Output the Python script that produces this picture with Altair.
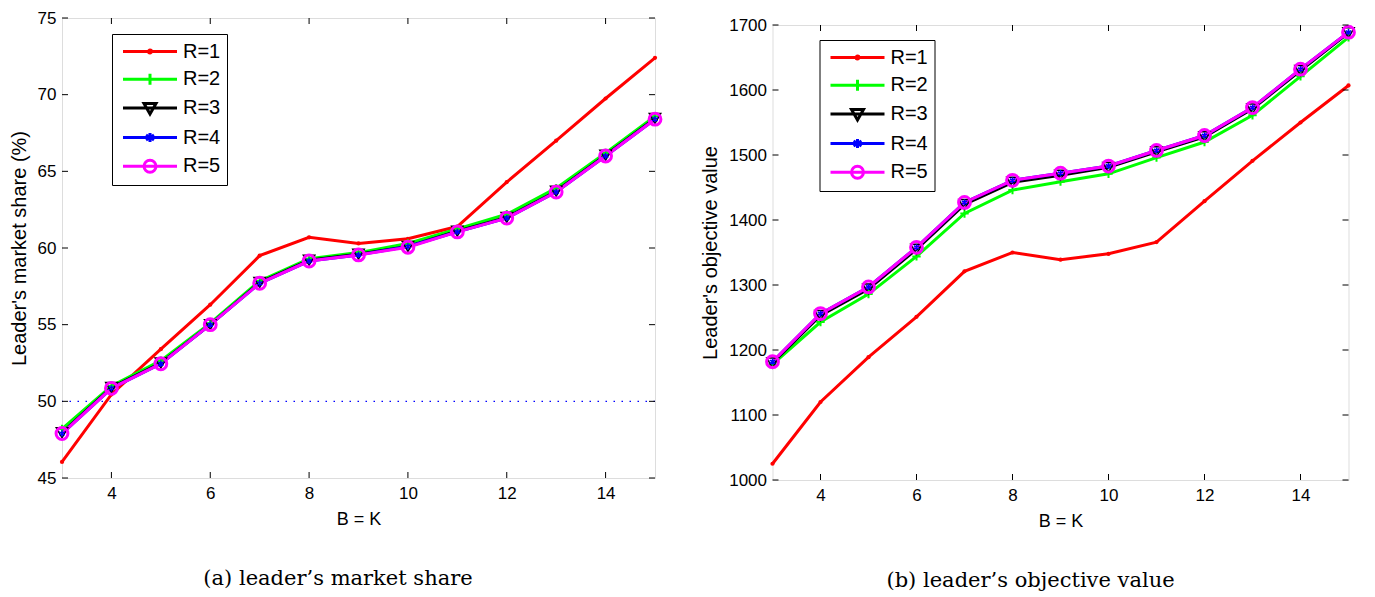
import altair as alt
import pandas as pd

# ---------------- data ----------------
B = [3, 4, 5, 6, 7, 8, 9, 10, 11, 12, 13, 14, 15]
series = ["R=1", "R=2", "R=3", "R=4", "R=5"]
colors = ["#ff0000", "#00ff00", "#000000", "#0000ff", "#ff00ff"]

share_r1 = [46.05, 50.45, 53.4, 56.3, 59.5, 60.7, 60.3, 60.6, 61.4, 64.3, 67.0, 69.75, 72.4]
share_r2 = [48.2, 51.0, 52.65, 55.1, 57.85, 59.3, 59.7, 60.3, 61.25, 62.2, 63.9, 66.2, 68.6]
share_r3 = [47.95, 50.9, 52.5, 55.0, 57.75, 59.2, 59.6, 60.1, 61.1, 62.0, 63.7, 66.05, 68.45]
share_r4 = [47.9, 50.85, 52.45, 55.0, 57.7, 59.15, 59.55, 60.1, 61.05, 61.95, 63.65, 66.0, 68.4]
share_r5 = [47.9, 50.85, 52.45, 55.0, 57.7, 59.15, 59.55, 60.05, 61.05, 61.95, 63.65, 66.0, 68.4]

obj_r1 = [1025, 1120, 1189, 1251, 1321, 1350, 1339, 1348, 1366, 1429, 1491, 1550, 1607]
obj_r2 = [1178, 1243, 1286, 1344, 1410, 1446, 1459, 1471, 1496, 1520, 1561, 1621, 1681]
obj_r3 = [1180, 1253, 1294, 1355, 1424, 1458, 1469, 1481, 1505, 1528, 1571, 1630, 1688]
obj_r4 = [1182, 1256, 1297, 1358, 1427, 1461, 1472, 1483, 1507, 1530, 1573, 1632, 1689]
obj_r5 = [1182, 1256, 1297, 1358, 1427, 1461, 1472, 1483, 1507, 1530, 1573, 1632, 1689]

x_ticks = [4, 6, 8, 10, 12, 14]
share_ticks = [45, 50, 55, 60, 65, 70, 75]
obj_ticks = [1000, 1100, 1200, 1300, 1400, 1500, 1600, 1700]
share_ref = [50]

FONT = "Liberation Sans"
SERIF = "DejaVu Serif"

# legend symbols: line + marker (units = half symbol width)
legend_paths = [
    "M-0.65,0H4.75M2.2,0A0.15,0.15 0 1,1 1.9,0A0.15,0.15 0 1,1 2.2,0",
    "M-0.65,0H4.75M2.05,-0.55V0.55",
    "M-0.65,0H4.75M1.45,-0.45L2.65,-0.45L2.05,0.6Z",
    "M-0.65,0H4.75M2.05,-0.45V0.45M1.65,-0.25L2.45,0.25M1.65,0.25L2.45,-0.25",
    "M-0.65,0H4.75M2.65,0A0.6,0.6 0 1,1 1.45,0A0.6,0.6 0 1,1 2.65,0",
]
# plot markers: shape, size, filled, strokeWidth
marker_style = [
    ("circle", 18, True, 0),
    ("M-1,0H1M0,-1V1", 70, False, 2),
    ("triangle-down", 130, False, 1.5),
    ("M0,-1V1M-0.87,-0.5L0.87,0.5M-0.87,0.5L0.87,-0.5", 40, False, 1.5),
    ("circle", 140, False, 3),
]


def to_long(vals):
    rows = []
    for s, v in zip(series, vals):
        for b, y in zip(B, v):
            rows.append({"B": b, "value": y, "series": s})
    return pd.DataFrame(rows)


def panel(vals, ydom, yticks, ytitle, caption, W, H, lx, ly, ref=None):
    df = to_long(vals)

    def xenc(field):
        return alt.X(f"{field}:Q",
                     scale=alt.Scale(domain=[3, 15], nice=False, zero=False),
                     axis=alt.Axis(values=x_ticks, title="B = K", domain=False, ticks=False,
                                   grid=False, labelFont=FONT, labelFontSize=17,
                                   labelColor="black", labelPadding=7,
                                   titleFont=FONT, titleFontSize=18, titleFontWeight="normal",
                                   titleColor="black", titlePadding=9))

    def yenc(field):
        return alt.Y(f"{field}:Q",
                     scale=alt.Scale(domain=ydom, nice=False, zero=False),
                     axis=alt.Axis(values=yticks, title=ytitle, domain=False, ticks=False,
                                   grid=False, format="d", labelFont=FONT, labelFontSize=17,
                                   labelColor="black", labelPadding=6,
                                   titleFont=FONT, titleFontSize=20, titleFontWeight="normal",
                                   titleColor="black", titlePadding=8))

    leg = alt.Legend(title=None, orient="none", legendX=lx, legendY=ly,
                     strokeColor="black", fillColor="white", padding=6,
                     labelFont=FONT, labelFontSize=20, labelColor="black",
                     labelOffset=42, symbolSize=400, symbolStrokeWidth=3,
                     rowPadding=5.7, symbolOpacity=1)
    cscale = alt.Scale(domain=series, range=colors)

    layers = []
    if ref is not None:
        layers.append(
            alt.Chart(pd.DataFrame({"v": ref})).mark_rule(
                color="#0000ff", strokeDash=[1.5, 6.5], strokeWidth=1.3
            ).encode(y=yenc("v"))
        )
    layers.append(
        alt.Chart(df).mark_line(strokeWidth=3).encode(
            x=xenc("B"), y=yenc("value"),
            color=alt.Color("series:N", scale=cscale, legend=leg),
            order=alt.Order("B:Q"),
        )
    )
    for s, c, (shape, size, filled, sw) in zip(series, colors, marker_style):
        layers.append(
            alt.Chart(df).transform_filter(alt.datum.series == s).mark_point(
                shape=shape, size=size, filled=filled, color=c,
                strokeWidth=sw, opacity=1
            ).encode(x=xenc("B"), y=yenc("value"))
        )
    layers.append(
        alt.Chart(df).transform_filter("false").mark_point(filled=False).encode(
            x=xenc("B"), y=yenc("value"),
            color=alt.Color("series:N", scale=cscale, legend=leg),
            shape=alt.Shape("series:N", scale=alt.Scale(domain=series, range=legend_paths),
                            legend=leg),
        )
    )
    xt = pd.DataFrame({"t": x_ticks})
    yt = pd.DataFrame({"t": yticks})
    layers += [
        alt.Chart(xt).mark_rule(color="black", strokeWidth=1).encode(
            x=xenc("t"), y=alt.value(H), y2=alt.value(H - 6)),
        alt.Chart(xt).mark_rule(color="black", strokeWidth=1).encode(
            x=xenc("t"), y=alt.value(0), y2=alt.value(6)),
        alt.Chart(yt).mark_rule(color="black", strokeWidth=1).encode(
            y=yenc("t"), x=alt.value(0), x2=alt.value(6)),
        alt.Chart(yt).mark_rule(color="black", strokeWidth=1).encode(
            y=yenc("t"), x=alt.value(W), x2=alt.value(W - 6)),
    ]
    return alt.layer(*layers).properties(
        width=W, height=H,
        title=alt.TitleParams(text=caption, orient="bottom", anchor="middle", frame="bounds",
                              font=SERIF, fontSize=21, fontWeight="normal", color="black",
                              offset=40),
    )


left = panel([share_r1, share_r2, share_r3, share_r4, share_r5], [45, 75], share_ticks,
             "Leader's market share (%)", "(a) leader\u2019s market share",
             593, 460, 50, 16, ref=share_ref)
right = panel([obj_r1, obj_r2, obj_r3, obj_r4, obj_r5], [1000, 1700], obj_ticks,
              "Leader's objective value", "(b) leader\u2019s objective value",
              576, 455, 47, 22)

# invisible spacer pushing the right panel slightly lower
spacer = alt.Chart(pd.DataFrame({"s": [0]})).mark_rule(strokeOpacity=0).encode(
    x=alt.value(0), x2=alt.value(1), y=alt.value(0)
).properties(width=1, height=1, view=alt.ViewBackground(stroke="transparent"))

right_col = alt.vconcat(spacer, right, spacing=-5)

chart = alt.hconcat(left, right_col, spacing=31.5).resolve_scale(
    color="independent", shape="independent"
).properties(
    padding={"left": 0, "top": 0, "right": 5, "bottom": 5}
).configure_view(stroke="black", strokeWidth=1.2).configure(background="white")

chart.save("out.html", embed_options={"renderer": "svg", "actions": False})
